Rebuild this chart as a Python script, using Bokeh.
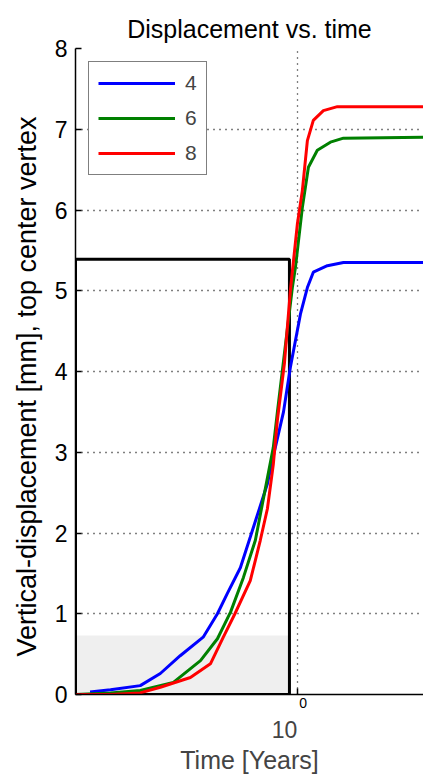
from bokeh.plotting import figure
from bokeh.models import Range1d, FixedTicker, Legend, LegendItem, LogAxis
from bokeh.embed import file_html
from bokeh.resources import INLINE

# ---------------- data ----------------
title_text = "Displacement vs. time"
x_label = "Time [Years]"
y_label = "Vertical-displacement [mm], top center vertex"
y_ticks = [0, 1, 2, 3, 4, 5, 6, 7, 8]
x_ticks = [1]
x_tick_base = "10"
x_tick_exp = "0"
x_limits = [0.36, 1.787]
y_limits = [0, 8]

series_names = ["4", "6", "8"]
series_colors = ["#0000ff", "#008000", "#ff0000"]

t_4 = [0.385, 0.423, 0.485, 0.532, 0.583, 0.648, 0.692, 0.724, 0.769, 0.805,
       0.871, 0.895, 0.938, 0.968, 1.014, 1.047, 1.076, 1.148, 1.236, 1.787]
v_4 = [0.03, 0.06, 0.11, 0.26, 0.48, 0.71, 1.00, 1.25, 1.57, 1.95,
       2.61, 2.95, 3.50, 4.05, 4.71, 5.04, 5.23, 5.31, 5.35, 5.35]

t_6 = [0.360, 0.423, 0.485, 0.565, 0.640, 0.692, 0.735, 0.780, 0.824, 0.895,
       0.912, 0.977, 0.991, 1.023, 1.052, 1.096, 1.164, 1.236, 1.787]
v_6 = [0.0, 0.02, 0.05, 0.15, 0.42, 0.69, 1.02, 1.45, 1.91, 3.06,
       3.50, 5.04, 5.29, 6.03, 6.53, 6.74, 6.84, 6.89, 6.90]

t_8 = [0.360, 0.423, 0.485, 0.532, 0.611, 0.670, 0.711, 0.750, 0.805, 0.843,
       0.871, 0.895, 0.912, 0.942, 0.968, 1.0, 1.023, 1.047, 1.076, 1.127,
       1.202, 1.787]
v_8 = [0.0, 0.0, 0.02, 0.09, 0.21, 0.38, 0.71, 1.00, 1.41, 1.91,
       2.30, 2.85, 3.40, 4.10, 5.00, 5.83, 6.24, 6.86, 7.11, 7.23,
       7.28, 7.28]

# zoom box and shaded region (time range, value range)
box_t = [0.36, 0.964]
box_v = [0.0, 5.39]
shade_t = [0.36, 0.962]
shade_v = [0.0, 0.73]

FONT = "Liberation Sans"
NBSP = "\u00a0"

p = figure(width=423, height=776, x_axis_type="log",
           x_range=Range1d(x_limits[0], x_limits[1]),
           y_range=Range1d(y_limits[0], y_limits[1]),
           output_backend="svg", toolbar_location=None,
           min_border_left=75, min_border_right=0,
           min_border_top=48, min_border_bottom=82)

p.title.text = title_text
p.title.align = "center"
p.title.text_font = FONT
p.title.text_font_size = "25px"
p.title.text_font_style = "normal"
p.title.text_color = "#000000"
p.title.standoff = 12

p.outline_line_color = None
p.background_fill_color = "white"
p.border_fill_color = "white"

# axes
for ax in (p.xaxis, p.yaxis):
    ax.axis_line_color = "black"
    ax.axis_line_width = 1.5
    ax.major_tick_line_color = "black"
    ax.major_tick_line_width = 1.5
    ax.major_tick_in = 6
    ax.major_tick_out = 0
    ax.minor_tick_line_color = None
    ax.major_label_text_font = FONT
    ax.major_label_text_color = "black"
    ax.axis_label_text_font = FONT
    ax.axis_label_text_font_style = "normal"
    ax.axis_label_text_color = "black"

p.yaxis.ticker = FixedTicker(ticks=y_ticks)
p.yaxis.major_label_text_font_size = "23px"
p.yaxis.major_label_standoff = 8
p.yaxis.axis_label = y_label + NBSP * 4
p.yaxis.axis_label_text_font_size = "27px"
p.yaxis.axis_label_standoff = 10

# inner x axis: exponent of the tick label (set to the right of the tick)
p.xaxis.ticker = FixedTicker(ticks=x_ticks)
p.xaxis.major_label_overrides = {x_ticks[0]: NBSP * 3 + x_tick_exp}
p.xaxis.major_label_text_font_size = "14px"
p.xaxis.major_label_standoff = 0

# outer x axis: base of the tick label (set left of the tick) and axis title
ax2 = LogAxis(ticker=FixedTicker(ticks=x_ticks),
              major_label_overrides={x_ticks[0]: x_tick_base + NBSP * 4},
              axis_line_color=None, major_tick_line_color=None,
              minor_tick_line_color=None,
              major_label_text_font=FONT, major_label_text_font_size="23px",
              major_label_standoff=-3,
              axis_label=x_label, axis_label_text_font=FONT,
              axis_label_text_font_size="25px", axis_label_text_font_style="normal",
              axis_label_standoff=0)
p.add_layout(ax2, "below")

# grid
for g in (p.xgrid, p.ygrid):
    g.grid_line_color = "black"
    g.grid_line_width = 1.3
    g.grid_line_dash = "1 5"
    g.grid_line_alpha = 1.0

# shaded region and zoom box
p.quad(left=[shade_t[0]], right=[shade_t[1]], bottom=[shade_v[0]], top=[shade_v[1]],
       fill_color="#efefef", line_color=None)
p.quad(left=[box_t[0]], right=[box_t[1]], bottom=[box_v[0]], top=[box_v[1]],
       fill_color=None, line_color="black", line_width=3)

renderers = []
for t, v, c in zip([t_4, t_6, t_8], [v_4, v_6, v_8], series_colors):
    r = p.line(t, v, line_color=c, line_width=3)
    renderers.append(r)

legend = Legend(items=[LegendItem(label=n, renderers=[r]) for n, r in zip(series_names, renderers)],
                location=(13, 519))
legend.label_text_font = FONT
legend.label_text_font_size = "21px"
legend.glyph_width = 77
legend.glyph_height = 20
legend.label_width = 0
legend.label_standoff = 10
legend.spacing = 11
legend.padding = 9
legend.margin = 0
legend.border_line_color = "black"
legend.border_line_width = 1.5
legend.background_fill_color = "white"
legend.background_fill_alpha = 1.0
p.add_layout(legend, "center")

open("out.html", "w").write(file_html(p, INLINE))
